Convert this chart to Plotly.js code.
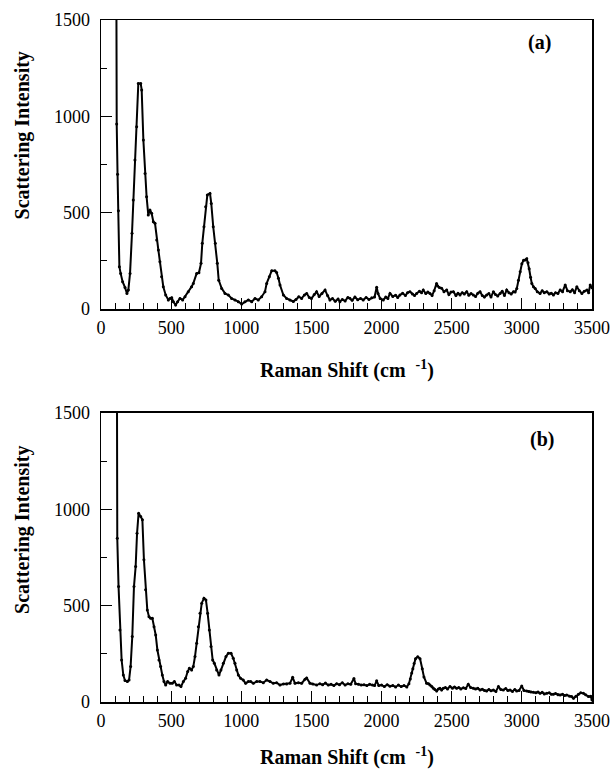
<!DOCTYPE html>
<html>
<head>
<meta charset="utf-8">
<script src="https://cdn.plot.ly/plotly-3.0.1.min.js"></script>
<style>html,body{margin:0;padding:0;background:#fff;}#chart{width:611px;height:772px;}</style>
</head>
<body>
<div id="chart"></div>
<script>
// Panel (a)
var shiftA = [105,108,112,118,124,131,140,154,171,185,195,207,221,230,242,254,266,283,290,302,314,325,337,349,361,373,385,397,409,420,432,444,461,480,492,504,516,532,546,563,582,599,622,646,658,682,698,713,722,734,746,758,777,786,800,815,829,839,860,884,908,931,955,979,1003,1026,1050,1074,1098,1121,1145,1169,1181,1200,1217,1240,1252,1265,1276,1300,1323,1347,1371,1390,1410,1430,1450,1466,1485,1500,1520,1537,1555,1575,1597,1615,1632,1650,1670,1690,1703,1720,1740,1760,1774,1790,1810,1830,1850,1869,1890,1910,1930,1950,1965,1975,1990,2012,2030,2045,2060,2080,2100,2115,2131,2150,2170,2185,2202,2220,2235,2250,2270,2285,2297,2315,2330,2345,2360,2375,2392,2400,2412,2428,2445,2464,2480,2495,2512,2530,2545,2559,2575,2590,2607,2622,2638,2654,2670,2686,2702,2718,2733,2749,2765,2780,2797,2812,2828,2845,2860,2876,2892,2908,2924,2940,2952,2964,2976,2988,3000,3012,3024,3035,3044,3052,3062,3071,3083,3095,3110,3130,3145,3160,3178,3195,3210,3225,3240,3257,3273,3290,3309,3325,3345,3360,3376,3392,3410,3428,3445,3464,3476,3487,3500];
var intensityA = [3000,2000,960,700,510,220,185,142,112,81,99,185,393,566,773,946,1171,1171,1137,877,704,583,488,514,497,453,445,358,306,246,168,116,73,47,55,59,38,21,38,55,47,64,90,116,133,185,188,237,341,427,531,592,600,548,427,341,237,150,107,81,73,55,47,38,26,38,47,38,55,47,64,90,133,168,199,199,190,160,125,73,55,47,39,50,64,55,73,81,60,55,75,90,65,80,99,70,47,55,40,52,38,50,42,60,56,45,62,48,55,47,60,50,58,62,113,80,55,47,62,55,81,65,72,60,73,82,70,85,90,78,70,81,92,85,99,80,88,81,70,95,133,120,112,108,90,99,75,88,90,70,82,73,85,78,90,72,80,73,65,82,90,70,62,73,80,62,90,75,68,81,92,70,99,85,78,90,88,107,150,193,235,253,255,261,240,209,165,133,115,107,90,81,95,85,90,78,82,73,85,80,99,90,125,95,90,100,85,116,95,81,92,99,85,125,110];

// Panel (b)
var shiftB = [110,114,116,125,135,147,159,171,188,200,211,223,235,247,257,268,283,295,306,318,330,342,354,366,378,390,402,413,425,437,449,461,475,492,508,523,539,556,570,587,603,618,630,646,658,670,682,694,706,718,734,748,760,772,784,796,808,824,841,855,872,891,908,927,943,955,967,979,995,1014,1031,1050,1067,1086,1110,1133,1157,1181,1205,1228,1252,1276,1300,1323,1347,1366,1383,1407,1430,1454,1466,1490,1510,1537,1560,1580,1600,1620,1640,1660,1680,1700,1720,1740,1760,1780,1803,1815,1835,1855,1875,1895,1915,1935,1950,1965,1980,2000,2020,2040,2060,2080,2100,2120,2140,2160,2180,2195,2205,2215,2223,2232,2242,2258,2274,2290,2302,2321,2335,2345,2358,2369,2380,2393,2405,2416,2428,2440,2455,2470,2488,2505,2520,2535,2550,2565,2583,2600,2618,2635,2654,2670,2686,2702,2718,2733,2749,2765,2780,2797,2815,2833,2850,2868,2885,2900,2916,2933,2950,2963,2980,2999,3015,3035,3050,3065,3082,3100,3115,3130,3145,3160,3178,3195,3210,3225,3240,3257,3273,3290,3305,3320,3340,3355,3368,3385,3403,3420,3439,3455,3475,3490,3500];
var intensityB = [3000,2000,850,600,374,218,140,111,106,114,184,340,599,703,876,980,963,946,738,582,478,443,435,435,391,348,270,218,184,140,106,88,106,97,97,106,88,88,80,106,123,158,175,166,184,236,305,391,461,513,539,530,461,374,288,218,201,166,140,166,201,236,253,253,227,201,166,140,123,114,97,106,106,97,106,106,100,114,106,97,100,88,94,94,97,128,97,100,97,118,125,97,94,88,95,90,98,88,92,85,95,90,100,88,95,92,122,95,92,88,90,85,92,88,85,110,85,88,80,90,82,85,78,88,80,85,78,95,120,150,173,200,225,235,225,173,130,97,95,88,80,71,65,57,68,71,62,71,75,68,80,72,78,71,75,68,74,70,92,75,71,68,72,62,66,60,57,65,58,62,55,80,65,62,70,60,62,55,65,57,60,83,60,57,55,52,50,48,52,45,50,42,45,48,40,40,44,38,36,40,34,36,30,28,19,30,40,48,45,38,28,30,10];

var xTicks = [0,500,1000,1500,2000,2500,3000,3500];
var yTicks = [0,500,1000,1500];
var xMinor = [100,200,300,400,600,700,800,900,1100,1200,1300,1400,1600,1700,1800,1900,2100,2200,2300,2400,2600,2700,2800,2900,3100,3200,3300,3400];
var yMinor = [250,750,1250];

var SERIF = '"Liberation Serif", "DejaVu Serif", serif';
var lineStyle = {color:'black', width:2};
var markerStyle = {color:'black', size:3};

var traces = [
  {x:shiftA, y:intensityA, xaxis:'x', yaxis:'y', mode:'lines+markers', line:lineStyle, marker:markerStyle, hoverinfo:'skip'},
  {x:shiftB, y:intensityB, xaxis:'x2', yaxis:'y2', mode:'lines+markers', line:lineStyle, marker:markerStyle, hoverinfo:'skip'}
];

function xAxis(anchor){
  return {anchor:anchor, range:[0,3500], tickmode:'array', tickvals:xTicks, ticktext:xTicks.map(String),
    ticks:'inside', ticklen:11, tickwidth:1, tickcolor:'black',
    showline:true, linewidth:1.5, linecolor:'black', mirror:true,
    showgrid:false, zeroline:false, tickfont:{family:SERIF, size:18, color:'black'}, ticklabelstandoff:2,
    minor:{tickmode:'array', tickvals:xMinor, ticks:'inside', ticklen:6, tickwidth:1, tickcolor:'black', showgrid:false}};
}
function yAxis(anchor, domain){
  return {anchor:anchor, domain:domain, range:[0,1500], tickmode:'array', tickvals:yTicks, ticktext:yTicks.map(String),
    ticks:'inside', ticklen:11, tickwidth:1, tickcolor:'black',
    showline:true, linewidth:1.5, linecolor:'black', mirror:true,
    showgrid:false, zeroline:false, tickfont:{family:SERIF, size:18, color:'black'}, ticklabelstandoff:6,
    minor:{tickmode:'array', tickvals:yMinor, ticks:'inside', ticklen:6, tickwidth:1, tickcolor:'black', showgrid:false}};
}

var titleFont = {size:20, color:'black', family:SERIF, weight:'bold'};
var layout = {
  width:611, height:772,
  margin:{l:101, r:19, t:20, b:70},
  paper_bgcolor:'white', plot_bgcolor:'white',
  showlegend:false,
  font:{family:SERIF, color:'black'},
  xaxis: xAxis('y'),
  yaxis: yAxis('x', [0.5762,1]),
  xaxis2: xAxis('y2'),
  yaxis2: yAxis('x2', [0,0.4238]),
  annotations:[
    {text:'Scattering Intensity', textangle:-90, xref:'paper', yref:'paper', x:-0.159, y:0.8306, xanchor:'center', yanchor:'middle', showarrow:false, font:titleFont},
    {text:'Scattering Intensity', textangle:-90, xref:'paper', yref:'paper', x:-0.159, y:0.2522, xanchor:'center', yanchor:'middle', showarrow:false, font:titleFont},
    {text:'Raman Shift (cm&nbsp; <sup>-1</sup>)', xref:'paper', yref:'paper', x:0.5, y:0.4875, xanchor:'center', yanchor:'middle', showarrow:false, font:titleFont},
    {text:'Raman Shift (cm&nbsp; <sup>-1</sup>)', xref:'paper', yref:'paper', x:0.5, y:-0.0806, xanchor:'center', yanchor:'middle', showarrow:false, font:titleFont},
    {text:'(a)', xref:'paper', yref:'paper', x:0.894, y:0.9663, xanchor:'center', yanchor:'middle', showarrow:false, font:titleFont},
    {text:'(b)', xref:'paper', yref:'paper', x:0.898, y:0.3842, xanchor:'center', yanchor:'middle', showarrow:false, font:titleFont}
  ]
};

Plotly.newPlot('chart', traces, layout, {displayModeBar:false, staticPlot:true});
</script>
</body>
</html>
